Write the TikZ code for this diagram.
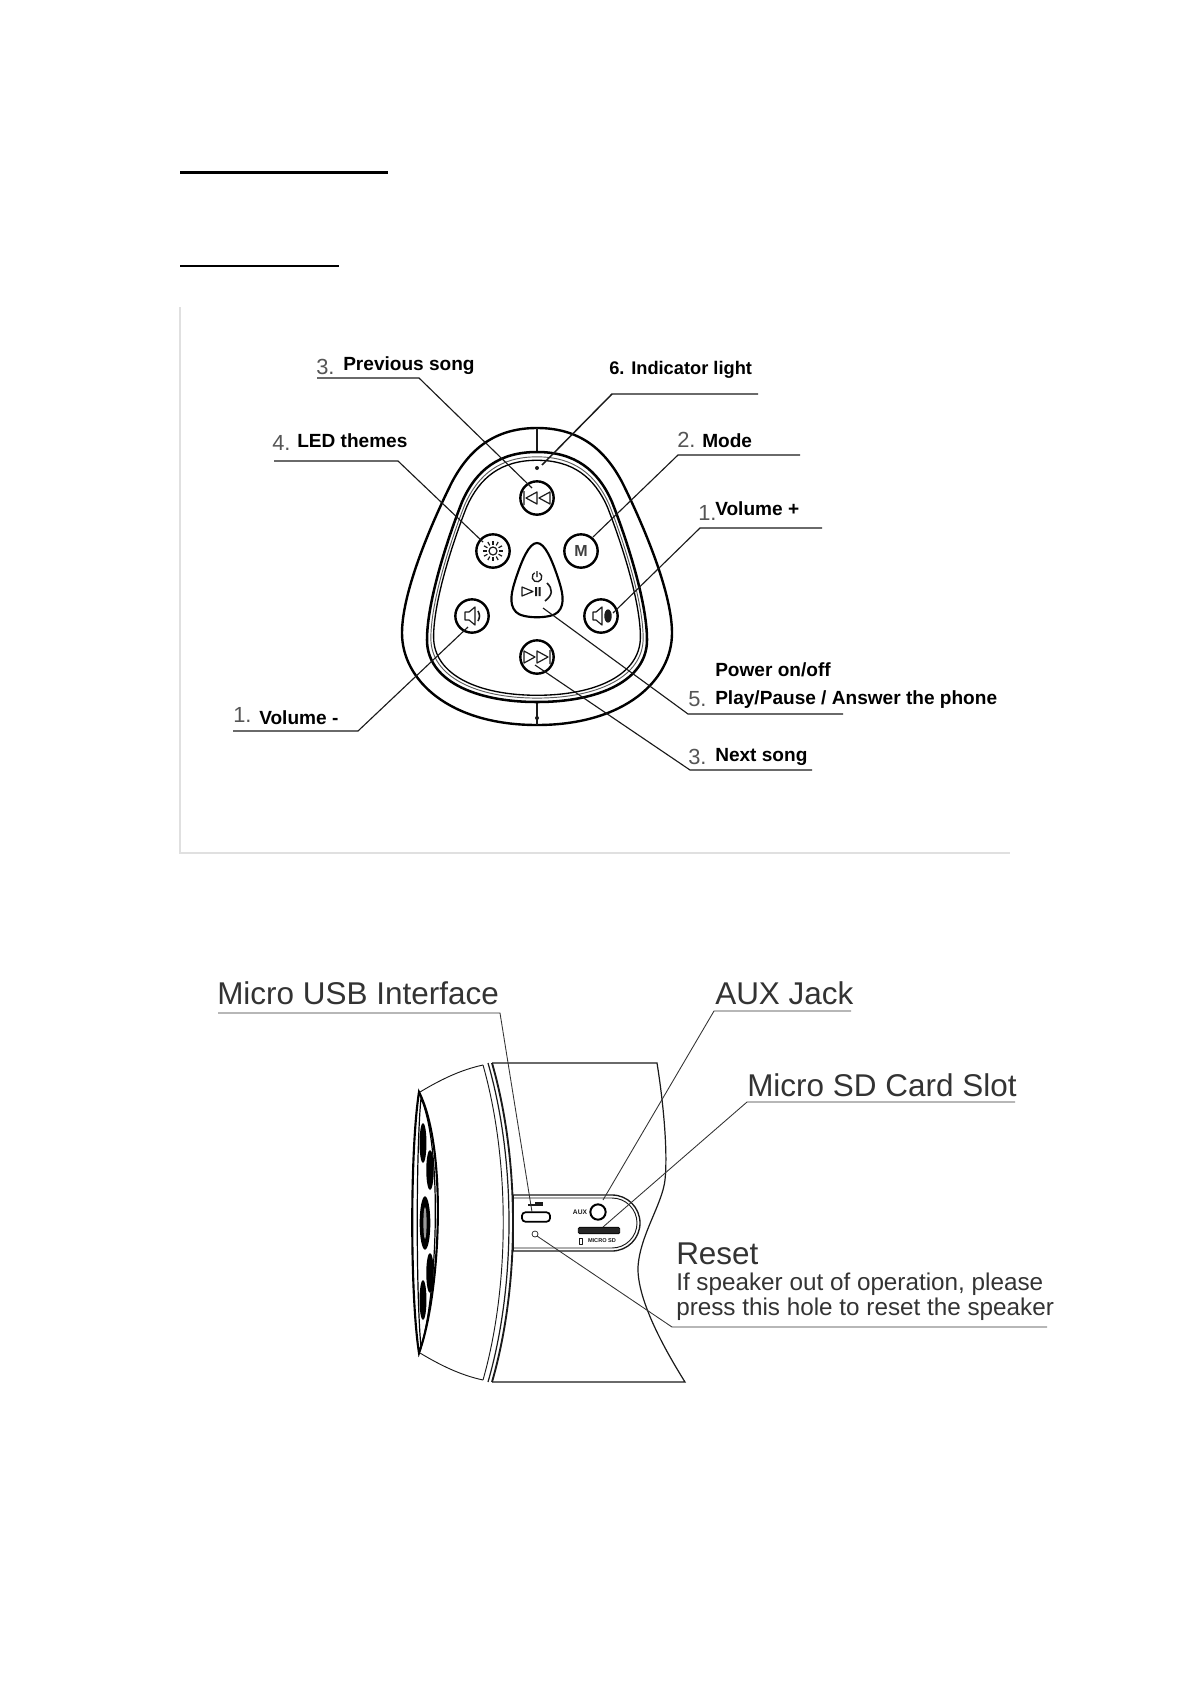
\documentclass[tikz,border=0pt]{standalone}
\usepackage{fontspec}
\setmainfont{Liberation Sans}
\usetikzlibrary{calc}
\definecolor{inkc}{HTML}{1A1A1A}
\definecolor{txtc}{HTML}{333333}
\definecolor{numc}{HTML}{555555}
\tikzset{
  lead/.style={draw=inkc,line width=.85pt},
  leadb/.style={draw=txtc,line width=.65pt},
  lblb/.style={anchor=west,inner sep=0pt,text=black,font=\fontsize{14.3}{16}\selectfont\bfseries},
  lblnum/.style={anchor=west,inner sep=0pt,text=numc,font=\fontsize{16.4}{18}\selectfont},
  lblbig/.style={anchor=west,inner sep=0pt,text=txtc,font=\fontsize{23.6}{26}\selectfont},
  lblmid/.style={anchor=west,inner sep=0pt,text=txtc,font=\fontsize{18.2}{20}\selectfont},
  btn/.style={circle,draw=black,line width=1.8pt,minimum size=25pt,inner sep=0pt,fill=white},
  icon/.style={draw=inkc,line width=.9pt,line join=round},
  body/.style={draw=inkc,line width=.7pt}
}
\newcommand{\shellring}{(0,-138) .. controls (38,-138) and (61,-120) .. (75,-88) .. controls (88,-55) and (110,10) .. (110,50) .. controls (110,90) and (63,112) .. (0,112) .. controls (-63,112) and (-110,90) .. (-110,50) .. controls (-110,10) and (-88,-55) .. (-75,-88) .. controls (-61,-120) and (-38,-138) .. (0,-138) -- cycle}
\begin{document}
\begin{tikzpicture}[x=.75pt,y=-.75pt]
\useasboundingbox (0,0) rectangle (1191,1684);
% header rules
\draw[black,line width=2.3pt] (180,172.5) -- (388,172.5);
\draw[black,line width=1.6pt] (180,266) -- (339,266);
% frame
\draw[black!12,line width=.8pt] (180,307) -- (180,853) -- (1010,853);

% keypad shell
\draw[black,line width=1.8pt] (537,428) .. controls (580,428) and (605,450) .. (622,482) .. controls (640,518) and (672,590) .. (672,633) .. controls (672,680) and (625,725) .. (537,725) .. controls (449,725) and (402,680) .. (402,633) .. controls (402,590) and (434,518) .. (452,482) .. controls (469,450) and (494,428) .. (537,428) -- cycle;
\draw[inkc,line width=.8pt] (537,428) -- (537,452) (537,702) -- (537,725);
\fill[inkc] (537,718) circle (1.5pt);
\begin{scope}[shift={(537,590)}]
\draw[black,line width=1.9pt] \shellring;
\begin{scope}[scale=.965]\draw[black!65,line width=.7pt] \shellring;\end{scope}
\begin{scope}[scale=.94]\draw[black,line width=1pt] \shellring;\end{scope}
\end{scope}
\fill[inkc] (537,468) circle (1.5pt);
\coordinate (dot) at (542,465);

% center button
\draw[black,line width=1.6pt,fill=white] (537,543) .. controls (545,543) and (552,560) .. (558,578) .. controls (562,590) and (566,604) .. (558,612) .. controls (552,619) and (522,619) .. (516,612) .. controls (508,604) and (512,590) .. (516,578) .. controls (522,560) and (529,543) .. (537,543) -- cycle;
\draw[icon,line width=1pt] (537,577) ++(60:3.6pt) arc (60:-240:3.6pt) (537,571) -- (537,577);
\draw[icon] (522,587) -- (522,596) -- (533,591.5) -- cycle;
\fill[inkc] (535,587) rectangle (537,596) (538.5,587) rectangle (540.5,596);
\draw[icon,line width=1.2pt] (547,583) .. controls (553,589) and (553,595) .. (545,601);

% buttons
\node[btn] (prev) at (537,498) {};
\node[btn] (led) at (493,551) {};
\node[btn] (mode) at (581,551) {};
\node[btn] (vmin) at (472,616) {};
\node[btn] (vplus) at (601,616) {};
\node[btn] (next) at (537,657) {};
% prev icon
\draw[icon] (524,491) -- (524,505) (537,492) -- (526,498) -- (537,504) -- cycle (550,492) -- (539,498) -- (550,504) -- cycle;
% next icon
\draw[icon] (550,650) -- (550,664) (537,651) -- (548,657) -- (537,663) -- cycle (524,651) -- (535,657) -- (524,663) -- cycle;
% led icon
\draw[icon] (493,551) circle (3pt);
\foreach \a in {0,30,...,330}{\draw[icon] ($(493,551)+(\a:4.8pt)$) -- ($(493,551)+(\a:7.8pt)$);}
% M
\node[inner sep=0pt,text=black!75,font=\fontsize{12}{13}\selectfont\bfseries] (mtxt) at (581,551) {M};
% vol- icon
\draw[icon] (465,612) -- (469,612) -- (475,607) -- (475,625) -- (469,620) -- (465,620) -- cycle;
\draw[icon,line width=1.2pt] (478,611) .. controls (480,615) and (480,617) .. (478,621);
% vol+ icon
\draw[icon] (593,612) -- (596,612) -- (602,607) -- (602,625) -- (596,620) -- (593,620) -- cycle;
\fill[inkc] (608,616) ellipse (2.8pt and 5pt);

% leaders top
\coordinate (a1) at (317,378); \coordinate (a2) at (419,378); \coordinate (a3) at (532,488);
\draw[lead] (a1) -- (a2) -- (a3);
\coordinate (b1) at (758,394); \coordinate (b2) at (612,394);
\draw[lead,line width=1.1pt] (b1) -- (b2) -- (dot);
\coordinate (c1) at (274,461); \coordinate (c2) at (398,461); \coordinate (c3) at (483,542);
\draw[lead] (c1) -- (c2) -- (c3);
\coordinate (d1) at (800,455); \coordinate (d2) at (678,455); \coordinate (d3) at (593,537);
\draw[lead] (d1) -- (d2) -- (d3);
\coordinate (e1) at (822,528); \coordinate (e2) at (700,528); \coordinate (e3) at (613,613);
\draw[lead] (e1) -- (e2) -- (e3);
\coordinate (f1) at (233,731); \coordinate (f2) at (358,731); \coordinate (f3) at (468,627);
\draw[lead] (f1) -- (f2) -- (f3);
\coordinate (g1) at (843,714); \coordinate (g2) at (688,714); \coordinate (g3) at (543,608);
\draw[lead] (g1) -- (g2) -- (g3);
\coordinate (h1) at (812,770); \coordinate (h2) at (690,770); \coordinate (h3) at (535,665);
\draw[lead] (h1) -- (h2) -- (h3);

% labels top
\node[lblnum] (n3a) at (316,367) {3.};
\node[lblb] (t3a) at (343,366) {Previous song};
\node[lblb,font=\fontsize{13.7}{16}\selectfont\bfseries] (t6) at (609,370) {6. Indicator light};
\node[lblnum] (n2) at (677,440) {2.};
\node[lblb] (t2) at (702,441) {Mode};
\node[lblnum] (n4) at (272,443) {4.};
\node[lblb] (t4) at (297,441) {LED themes};
\node[lblnum] (n1a) at (698,513) {1.};
\node[lblb] (t1a) at (715,509) {Volume +};
\node[lblnum] (n1b) at (233,715) {1.};
\node[lblb] (t1b) at (259,718) {Volume -};
\node[lblb] (t5a) at (715,670) {Power on/off};
\node[lblnum] (n5) at (688,699) {5.};
\node[lblb] (t5b) at (715,700) {Play/Pause / Answer the phone};
\node[lblnum] (n3b) at (688,757) {3.};
\node[lblb] (t3b) at (715,757) {Next song};

% speaker body
\draw[body,line width=.9pt] (492,1063) -- (657,1063) .. controls (663,1100) and (668,1150) .. (665,1180) .. controls (662,1205) and (640,1235) .. (638,1267) .. controls (637,1300) and (665,1350) .. (685,1382) -- (492,1382);
\draw[body] (483,1065) .. controls (460,1070) and (440,1080) .. (420,1092);
\draw[body] (483,1380) .. controls (460,1375) and (440,1365) .. (420,1353);
\draw[body] (483,1065) .. controls (510,1160) and (510,1285) .. (483,1380);
\draw[body,line width=1.4pt] (492,1063) .. controls (520,1160) and (520,1285) .. (492,1382);
\draw[body,line width=.9pt] (488,1063) .. controls (516,1160) and (516,1285) .. (488,1382);
% face
\draw[black,line width=1.6pt] (419,1092) .. controls (410,1150) and (410,1295) .. (419,1353) .. controls (440,1295) and (448,1150) .. (419,1092) -- cycle;
\draw[black,line width=.9pt] (421,1098) .. controls (416,1150) and (416,1295) .. (421,1347) .. controls (437,1295) and (443,1150) .. (421,1098) -- cycle;
\fill[black] (423,1143) ellipse (2.6pt and 15pt);
\fill[black] (430,1170) ellipse (2.8pt and 15pt);
\fill[black] (425,1223) ellipse (4pt and 20pt);
\fill[black!40] (425,1223) ellipse (1.2pt and 12pt);
\fill[black] (430,1273) ellipse (2.8pt and 15pt);
\fill[black] (423,1300) ellipse (2.6pt and 15pt);
% panel
\draw[body,line width=1pt,fill=white] (513,1195) -- (612,1195) arc (-90:90:28) -- (513,1251);
\draw[body,line width=.7pt] (513,1198) -- (612,1198) arc (-90:90:25) -- (513,1248);
\draw[body,line width=.9pt] (513,1195) -- (513,1251);
\node[draw=black,line width=1.3pt,rounded corners=2.5pt,minimum width=21pt,minimum height=7pt,inner sep=0pt] (usb) at (536,1217) {};
\draw[icon,line width=1pt] (528,1205) -- (543,1205) (535,1203) -- (543,1203);
\node[circle,draw=black,line width=1.5pt,minimum size=11.5pt,inner sep=0pt] (jack) at (598,1212) {};
\node[inner sep=0pt,text=inkc,font=\fontsize{5}{5}\selectfont\bfseries] (auxt) at (580,1212) {AUX};
\node[draw=black,fill=black!85,line width=.6pt,rounded corners=1pt,minimum width=31pt,minimum height=5pt,inner sep=0pt] (sd) at (599,1230.5) {};
\node[inner sep=0pt,text=inkc,font=\fontsize{4.2}{5}\selectfont\bfseries] (sdt) at (602,1241) {MICRO SD};
\draw[icon,line width=.7pt] (579,1238) rectangle (582,1244);
\node[circle,draw=inkc,line width=.5pt,minimum size=4.5pt,inner sep=0pt] (hole) at (535,1234) {};

% leaders bottom
\coordinate (p1) at (218,1013); \coordinate (p2) at (500,1013); \coordinate (p3) at (532,1212);
\draw[leadb] (p1) -- (p2) -- (p3);
\coordinate (q1) at (851,1011); \coordinate (q2) at (714,1011); \coordinate (q3) at (603,1200);
\draw[leadb] (q1) -- (q2) -- (q3);
\coordinate (r1) at (1015,1102); \coordinate (r2) at (747,1102); \coordinate (r3) at (603,1227);
\draw[leadb] (r1) -- (r2) -- (r3);
\coordinate (s1) at (1047,1327); \coordinate (s2) at (672,1327); \coordinate (s3) at (537,1236);
\draw[leadb] (s1) -- (s2) -- (s3);

% labels bottom
\node[lblbig] (u1) at (217,993) {Micro USB Interface};
\node[lblbig] (u2) at (715,993) {AUX Jack};
\node[lblbig] (u3) at (747,1085) {Micro SD Card Slot};
\node[lblbig] (u4) at (676,1254) {Reset};
\node[lblmid] (u5) at (676,1284) {If speaker out of operation, please};
\node[lblmid] (u6) at (676,1309) {press this hole to reset the speaker};
\end{tikzpicture}
\end{document}
